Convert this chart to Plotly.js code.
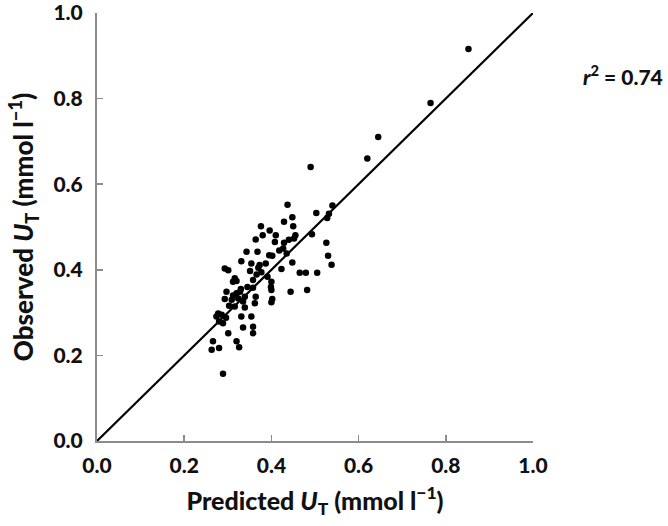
<!DOCTYPE html>
<html>
<head>
<meta charset="utf-8">
<script src="https://cdn.plot.ly/plotly-3.0.1.min.js"></script>
<style>html,body{margin:0;padding:0;background:#fff;}#chart{width:668px;height:526px;}</style>
</head>
<body>
<div id="chart"></div>
<script>
var predicted = [0.852,0.765,0.645,0.620,0.490,
0.437,0.503,0.540,0.532,0.528,0.429,0.448,0.450,0.376,0.396,0.380,0.364,0.410,0.408,0.455,0.452,0.493,0.526,0.429,0.427,
0.343,0.368,0.395,0.402,0.435,0.331,0.354,0.373,0.387,0.448,0.423,0.530,0.538,0.293,0.301,0.351,0.366,0.377,0.391,0.358,
0.465,0.479,0.505,0.316,0.320,0.400,0.399,0.400,0.358,0.364,0.444,0.482,0.297,0.320,0.328,0.293,0.309,0.324,0.335,0.402,
0.400,0.303,0.316,0.339,0.278,0.286,0.274,0.296,0.331,0.354,0.289,0.280,0.335,0.358,0.358,0.301,0.266,0.263,0.280,0.320,
0.326,0.289,0.312,0.339,0.362,0.345,0.370,0.418,0.440,0.330,0.312];
var observed = [0.916,0.790,0.710,0.660,0.640,
0.552,0.533,0.550,0.531,0.521,0.512,0.523,0.502,0.502,0.492,0.481,0.471,0.481,0.465,0.481,0.473,0.483,0.463,0.463,0.450,
0.442,0.442,0.434,0.433,0.438,0.420,0.415,0.411,0.415,0.417,0.402,0.433,0.412,0.403,0.399,0.397,0.389,0.394,0.384,0.376,
0.393,0.393,0.393,0.380,0.374,0.372,0.360,0.353,0.358,0.337,0.349,0.353,0.349,0.345,0.349,0.332,0.330,0.333,0.326,0.332,
0.324,0.316,0.314,0.312,0.298,0.295,0.291,0.288,0.291,0.291,0.275,0.279,0.265,0.267,0.252,0.252,0.233,0.213,0.217,0.233,
0.219,0.157,0.372,0.337,0.322,0.360,0.405,0.445,0.470,0.355,0.340];
var identityLine = [0, 1];
var tickVals = [0, 0.2, 0.4, 0.6, 0.8, 1.0];
var tickText = ['0.0', '0.2', '0.4', '0.6', '0.8', '1.0'];
var r2Label = '<i>r</i><sup>2</sup> = 0.74';

var font = 'Lato, "Open Sans", sans-serif';
var axisCommon = {
  range: [0, 1], tickvals: tickVals, ticktext: tickText,
  showgrid: false, zeroline: false, showline: true,
  linecolor: '#8c8c8c', linewidth: 2,
  ticks: 'inside', ticklen: 6, tickwidth: 1.5, tickcolor: '#8c8c8c',
  tickfont: {family: font, size: 21, color: '#111', weight: 900},
  ticklabeloverflow: 'allow',
  fixedrange: true
};
var layout = {
  width: 668, height: 526,
  margin: {l: 97, r: 135, t: 13, b: 85},
  paper_bgcolor: '#fff', plot_bgcolor: '#fff',
  showlegend: false,
  xaxis: Object.assign({}, axisCommon, {
    title: {text: 'Predicted <i>U</i><sub>T</sub> (mmol l<sup>−1</sup>)', font: {family: font, size: 25, color: '#111', weight: 900}, standoff: 16},
    ticklabelstandoff: 5
  }),
  yaxis: Object.assign({}, axisCommon, {
    title: {text: 'Observed <i>U</i><sub>T</sub> (mmol l<sup>−1</sup>)', font: {family: font, size: 26, color: '#111', weight: 900}, standoff: 12},
    ticklabelstandoff: 8
  }),
  annotations: [{
    xref: 'paper', yref: 'paper', x: 1.11, y: 0.855, xanchor: 'left', yanchor: 'middle',
    text: r2Label, showarrow: false, font: {family: font, size: 21, color: '#111', weight: 900}
  }]
};
var traces = [
  {x: identityLine, y: identityLine, mode: 'lines', line: {color: '#000', width: 2.2}, hoverinfo: 'skip', cliponaxis: false},
  {x: predicted, y: observed, mode: 'markers', marker: {color: '#000', size: 6.5}}
];
Plotly.newPlot('chart', traces, layout, {displayModeBar: false, staticPlot: true});
</script>
</body>
</html>
